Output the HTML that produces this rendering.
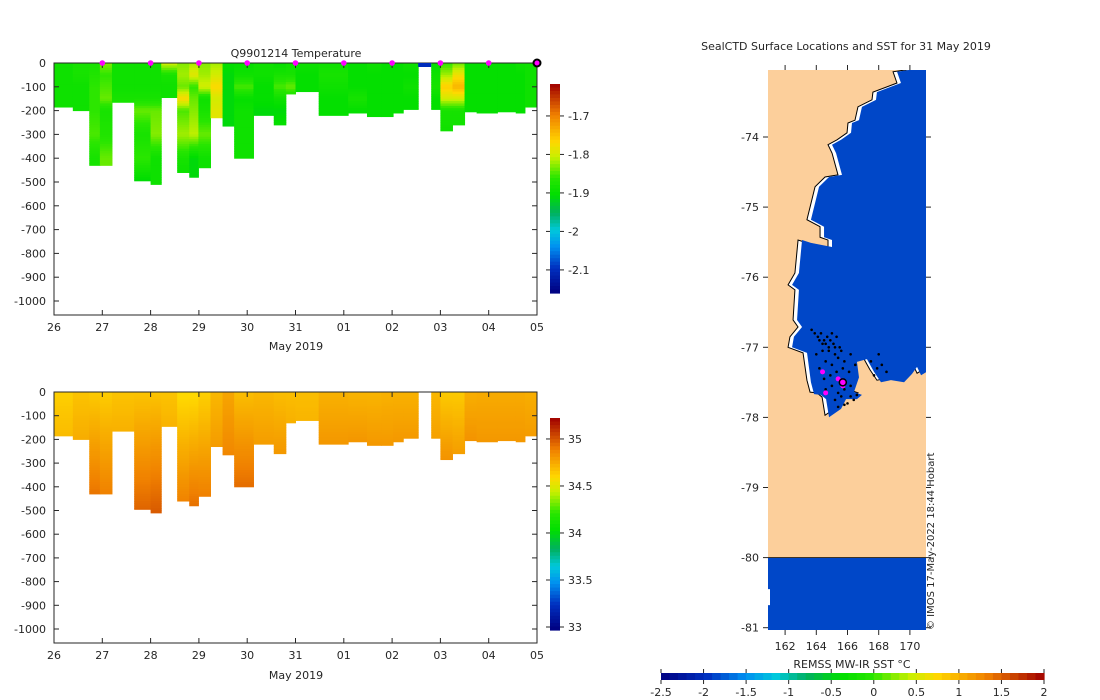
<!DOCTYPE html>
<html><head><meta charset="utf-8"><style>
html,body{margin:0;padding:0;background:#fff;}
svg{display:block;font-family:"DejaVu Sans","Liberation Sans",sans-serif;}
text{fill:#262626;font-size:11px;}
</style></head><body>
<svg id="fig" width="1100" height="700" viewBox="0 0 1100 700">
<defs><clipPath id="mapclip"><rect x="768" y="70" width="158" height="560"/></clipPath></defs>
<g id="temp"></g>
<g id="sal"></g>
<g id="map"></g>
<text x="296" y="57" text-anchor="middle">Q9901214  Temperature</text>
<text x="296" y="350" text-anchor="middle">May 2019</text>
<text x="296" y="679" text-anchor="middle">May 2019</text>
<text x="846" y="50" text-anchor="middle">SealCTD Surface Locations and SST for 31 May 2019</text>
<text x="852" y="668" text-anchor="middle">REMSS MW-IR SST °C</text>
<text transform="translate(934,630) rotate(-90)" style="font-size:10px">© IMOS 17-May-2022 18:44 Hobart</text>
</svg>
<script>
// ---- data ----
const dayLabels = ["26","27","28","29","30","31","01","02","03","04","05"];
const depthTicks = [0,-100,-200,-300,-400,-500,-600,-700,-800,-900,-1000];
const colStart = [0,0.39,0.73,0.95,1.2,1.66,2.0,2.22,2.55,2.8,2.99,3.24,3.49,3.73,4.13,4.55,4.8,5.0,5.48,6.09,6.48,6.78,7.02,7.23,7.81,8.0,8.25,8.5,8.75,9.18,9.56,9.75];
const colEnd   = [0.39,0.73,0.95,1.2,1.66,2.0,2.22,2.55,2.8,2.99,3.24,3.49,3.73,4.13,4.55,4.8,5.0,5.48,6.09,6.48,6.78,7.02,7.23,7.54,8.0,8.25,8.5,8.75,9.18,9.56,9.75,10.0];
const colDepth = [185,200,430,430,165,495,510,145,460,480,440,230,265,400,220,260,130,120,220,210,225,225,210,195,195,285,260,205,210,205,210,185];
const tempLevels = [0,50,100,150,200,300,400,500];
const tempVals = [
[-1.89,-1.89,-1.89,-1.89,-1.89,-1.89,-1.89,-1.89],
[-1.88,-1.88,-1.89,-1.89,-1.89,-1.89,-1.89,-1.89],
[-1.88,-1.87,-1.86,-1.86,-1.86,-1.85,-1.88,-1.88],
[-1.83,-1.86,-1.85,-1.84,-1.88,-1.87,-1.84,-1.84],
[-1.89,-1.89,-1.89,-1.88,-1.88,-1.88,-1.88,-1.88],
[-1.89,-1.89,-1.89,-1.88,-1.84,-1.88,-1.86,-1.91],
[-1.89,-1.89,-1.89,-1.88,-1.84,-1.83,-1.89,-1.89],
[-1.80,-1.88,-1.89,-1.89,-1.89,-1.89,-1.89,-1.89],
[-1.83,-1.82,-1.84,-1.77,-1.85,-1.82,-1.88,-1.90],
[-1.82,-1.79,-1.86,-1.84,-1.83,-1.81,-1.91,-1.91],
[-1.83,-1.82,-1.80,-1.89,-1.88,-1.84,-1.89,-1.89],
[-1.82,-1.80,-1.77,-1.80,-1.79,-1.79,-1.79,-1.79],
[-1.90,-1.91,-1.91,-1.91,-1.91,-1.91,-1.91,-1.91],
[-1.90,-1.89,-1.85,-1.90,-1.89,-1.89,-1.89,-1.89],
[-1.89,-1.89,-1.90,-1.90,-1.91,-1.91,-1.91,-1.91],
[-1.90,-1.88,-1.85,-1.89,-1.91,-1.89,-1.89,-1.89],
[-1.89,-1.88,-1.84,-1.89,-1.89,-1.89,-1.89,-1.89],
[-1.89,-1.90,-1.90,-1.90,-1.90,-1.90,-1.90,-1.90],
[-1.89,-1.88,-1.89,-1.90,-1.90,-1.90,-1.90,-1.90],
[-1.90,-1.90,-1.90,-1.88,-1.90,-1.90,-1.90,-1.90],
[-1.89,-1.90,-1.90,-1.90,-1.90,-1.90,-1.90,-1.90],
[-1.90,-1.90,-1.90,-1.90,-1.90,-1.90,-1.90,-1.90],
[-1.90,-1.90,-1.90,-1.90,-1.90,-1.90,-1.90,-1.90],
[-1.89,-1.90,-1.89,-1.90,-1.90,-1.90,-1.90,-1.90],
[-1.90,-1.89,-1.88,-1.90,-1.90,-1.90,-1.90,-1.90],
[-1.86,-1.82,-1.76,-1.80,-1.88,-1.89,-1.89,-1.89],
[-1.84,-1.78,-1.74,-1.80,-1.88,-1.89,-1.89,-1.89],
[-1.90,-1.90,-1.90,-1.90,-1.90,-1.90,-1.90,-1.90],
[-1.90,-1.90,-1.90,-1.90,-1.90,-1.90,-1.90,-1.90],
[-1.90,-1.90,-1.90,-1.90,-1.90,-1.90,-1.90,-1.90],
[-1.89,-1.90,-1.90,-1.90,-1.90,-1.90,-1.90,-1.90],
[-1.89,-1.89,-1.89,-1.89,-1.89,-1.89,-1.89,-1.89]];
const salTop = [34.62,34.66,34.64,34.63,34.66,34.66,34.66,34.66,34.58,34.58,34.62,34.70,34.76,34.68,34.70,34.68,34.68,34.68,34.72,34.71,34.71,34.72,34.72,34.72,34.70,34.64,34.64,34.73,34.74,34.74,34.74,34.73];
const sal500 = [34.80,34.85,34.96,34.92,34.85,34.96,34.98,34.85,34.90,34.94,34.92,34.90,34.95,35.00,34.90,34.92,34.85,34.80,34.92,34.95,34.92,34.90,34.92,34.92,34.90,34.96,34.92,34.95,34.90,34.90,34.90,34.90];
const markerDays = [1,2,3,4,5,6,7,8,9];
const lastDay = [10];
const sstTicks = [-2.5,-2,-1.5,-1,-0.5,0,0.5,1,1.5,2];
const tempCbTicks = [-1.7,-1.8,-1.9,-2,-2.1];
const salCbTicks = [35,34.5,34,33.5,33];
const lonTicks = [162,164,166,168,170];
const latTicks = [-74,-75,-76,-77,-78,-79,-80,-81];
const coastLon = [169.81,168.92,169.17,167.63,167.57,166.67,166.48,166.03,165.97,165.33,164.75,165.01,165.39,164.56,163.92,163.60,163.40,164.24,164.24,164.75,164.75,163.40,162.83,162.63,162.19,162.63,162.51,162.83,162.31,162.19,163.15,163.40,163.60,164.04,164.37,164.56,165.33,165.65,166.35,166.67,166.16,166.48,166.35,166.99,167.44,167.89,168.53,169.37,169.88,170.20,170.46,170.97,171.2];
const coastLat = [-73.04,-73.07,-73.23,-73.36,-73.47,-73.57,-73.76,-73.80,-73.94,-74.04,-74.11,-74.23,-74.54,-74.57,-74.71,-75.0,-75.18,-75.28,-75.43,-75.47,-75.57,-75.51,-75.47,-75.94,-76.11,-76.18,-76.61,-76.71,-76.85,-77.0,-77.08,-77.47,-77.64,-77.65,-77.71,-77.97,-77.85,-77.71,-77.71,-77.65,-77.61,-77.40,-77.18,-77.14,-77.32,-77.47,-77.44,-77.47,-77.35,-77.25,-77.37,-77.30,-77.30];
const trackLon = [163.7,163.9,164.1,164.3,164.5,164.7,164.9,165.1,165.3,165.5,164.0,164.4,164.8,165.2,165.6,164.2,164.6,165.0,165.4,165.8,166.2,164.5,164.9,165.3,165.7,166.1,166.5,164.6,165.0,165.4,165.8,166.2,165.2,165.6,166.0,166.4,165.4,165.8,166.2,166.6,167.5,167.9,168.2,168.5,167.7,168.0,164.2,164.6,165.0,164.8,165.2,164.4];
const trackLat = [-76.75,-76.8,-76.85,-76.8,-76.9,-76.85,-76.9,-76.95,-76.85,-77.0,-77.1,-77.05,-77.0,-77.1,-77.05,-77.3,-77.2,-77.25,-77.15,-77.2,-77.1,-77.45,-77.4,-77.35,-77.3,-77.35,-77.25,-77.6,-77.55,-77.65,-77.6,-77.55,-77.75,-77.7,-77.8,-77.75,-77.85,-77.82,-77.7,-77.68,-77.2,-77.3,-77.25,-77.35,-77.4,-77.1,-76.9,-76.95,-76.8,-77.05,-77.0,-76.95];
const magLon = [164.4,165.7,164.6,165.4];
const magLat = [-77.35,-77.55,-77.65,-77.45];
const curLon = [165.7];
const curLat = [-77.5];
const sstWater = -1.8;

// ---- helpers ----
const NS="http://www.w3.org/2000/svg";
function mk(tag,attrs,parent){const e=document.createElementNS(NS,tag);for(const k in attrs)e.setAttribute(k,attrs[k]);parent.appendChild(e);return e;}
const stops=[[0,[0,0,128]],[0.12,[0,48,192]],[0.22,[0,144,240]],[0.3,[0,200,220]],[0.38,[0,176,96]],[0.47,[0,222,0]],[0.55,[40,230,0]],[0.65,[200,240,0]],[0.72,[255,216,0]],[0.85,[240,128,0]],[1,[160,0,0]]];
function cmap(t){t=Math.max(0,Math.min(1,t));for(let i=1;i<stops.length;i++){if(t<=stops[i][0]){const a=stops[i-1],b=stops[i];const f=(t-a[0])/(b[0]-a[0]);const c=a[1].map((v,j)=>Math.round(v+(b[1][j]-v)*f));return `rgb(${c[0]},${c[1]},${c[2]})`;}}return 'rgb(160,0,0)';}
function interp(xs,ys,x){if(x<=xs[0])return ys[0];for(let i=1;i<xs.length;i++){if(x<=xs[i]){const f=(x-xs[i-1])/(xs[i]-xs[i-1]);return ys[i-1]+(ys[i]-ys[i-1])*f;}}return ys[ys.length-1];}

const X0=54,X1=537;
const xs=d=>X0+d*(X1-X0)/10;

function panel(g,top,bottom,zeroY,pxPerM,valFn,vmin,vmax,cb,cbTicks,name){
  const ys=d=>zeroY+d*pxPerM;
  for(let c=0;c<colStart.length;c++){
    const col=mk('g',{},g);
    
    
    for(let d=0;d<colDepth[c];d+=10){
      const d2=Math.min(d+10,colDepth[c]);
      const v=valFn(c,d+5);
      mk('rect',{x:xs(colStart[c]),y:ys(d),width:xs(colEnd[c])-xs(colStart[c])+0.5,height:ys(d2)-ys(d)+0.5,fill:cmap((v-vmin)/(vmax-vmin))},col);
    }
  }
  const box=mk('rect',{x:X0,y:zeroY,width:X1-X0,height:bottom-zeroY,fill:'none',stroke:'#262626','stroke-width':1},g);
  
  dayLabels.forEach((l,i)=>{const x=xs(i);
    mk('line',{x1:x,x2:x,y1:bottom,y2:bottom-5,stroke:'#262626'},g);
    mk('line',{x1:x,x2:x,y1:zeroY,y2:zeroY+5,stroke:'#262626'},g);
    const t=mk('text',{x:x,y:bottom+16,'text-anchor':'middle'},g);t.textContent=l;
    });
  depthTicks.forEach(v=>{const y=ys(-v);
    mk('line',{x1:X0,x2:X0+5,y1:y,y2:y,stroke:'#262626'},g);
    mk('line',{x1:X1,x2:X1-5,y1:y,y2:y,stroke:'#262626'},g);
    const t=mk('text',{x:X0-8,y:y+4,'text-anchor':'end'},g);t.textContent=v;
    });
  const cg=mk('g',{},g);
  const N=60;for(let i=0;i<N;i++){const y=cb.y0+(cb.y1-cb.y0)*i/N;mk('rect',{x:550,y:y,width:10,height:(cb.y1-cb.y0)/N+0.6,fill:cmap(1-(i+0.5)/N)},cg);}
  const cy=v=>cb.y1-(v-vmin)/(vmax-vmin)*(cb.y1-cb.y0);
  cbTicks.forEach(v=>{const y=cy(v);mk('line',{x1:560,x2:564,y1:y,y2:y,stroke:'#262626'},cg);mk('line',{x1:546,x2:550,y1:y,y2:y,stroke:'#262626'},cg);
    const t=mk('text',{x:568,y:y+4},cg);t.textContent=v;});
}
const tg=document.getElementById('temp');
panel(tg,63,315,63,0.238,(c,d)=>interp(tempLevels,tempVals[c],d),-2.16,-1.617,{y0:84,y1:293},tempCbTicks,'temperature');
const gs=mk('rect',{x:xs(7.54),y:63,width:xs(7.81)-xs(7.54),height:4,fill:cmap((-2.1+2.16)/0.543)},tg);

markerDays.forEach(d=>{const m=mk('circle',{cx:xs(d),cy:63,r:2.8,fill:'#ff00ff'},tg);
  });
lastDay.forEach(d=>{const m=mk('circle',{cx:xs(d),cy:63,r:3.5,fill:'#ff00ff',stroke:'#000','stroke-width':2},tg);
  });
const sg=document.getElementById('sal');
panel(sg,392,643,392,0.237,(c,d)=>salTop[c]+(sal500[c]-salTop[c])*d/500,32.968,35.223,{y0:418,y1:630},salCbTicks,'salinity');

// ---- map ----
const mgo=document.getElementById('map');
const mg=mk('g',{'clip-path':'url(#mapclip)'},mgo);
const lx=lon=>769.5+(lon-161)*15.6;
const ly=lat=>137+(-74-lat)*70.1;
const MX0=768,MX1=926,MY0=70,MY1=630;
const land=mk('rect',{x:MX0,y:MY0,width:MX1-MX0,height:MY1-MY0,fill:'#fccf9b'},mg);

let pts=coastLon.map((l,i)=>lx(l)+','+ly(coastLat[i]));
pts.push((MX1+5)+','+(MY0-2));
const wpoly=mk('polygon',{points:pts.join(' '),fill:'#fff',stroke:'#000','stroke-width':1},mg);

let pts2=coastLon.map((l,i)=>(lx(l)+4)+','+(ly(coastLat[i])+(i>30?2:0)));
pts2.push((MX1+5)+','+(MY0-2));
const sea=mk('polygon',{points:pts2.join(' '),fill:'#0047c8'},mg);

const s2=mk('rect',{x:MX0,y:ly(-80),width:MX1-MX0,height:MY1-ly(-80),fill:'#0047c8'},mg);

mk('line',{x1:MX0,x2:MX1,y1:ly(-80),y2:ly(-80),stroke:'#000','stroke-width':0.8},mg);
mk('rect',{x:MX0,y:ly(-80.45),width:2,height:16,fill:'#fff'},mg);
trackLon.forEach((l,i)=>{const p=mk('circle',{cx:lx(l),cy:ly(trackLat[i]),r:1.3,fill:'#000'},mg);
  });
magLon.forEach((l,i)=>{const p=mk('circle',{cx:lx(l),cy:ly(magLat[i]),r:2.5,fill:'#ff00ff'},mg);
  });
curLon.forEach((l,i)=>{const p=mk('circle',{cx:lx(l),cy:ly(curLat[i]),r:3.5,fill:'#ff00ff',stroke:'#000','stroke-width':1.5},mg);
  });
lonTicks.forEach(l=>{const x=lx(l);mk('line',{x1:x,x2:x,y1:MY1,y2:MY1+5,stroke:'#262626'},mgo);mk('line',{x1:x,x2:x,y1:MY0,y2:MY0-5,stroke:'#262626'},mgo);
  const t=mk('text',{x:x,y:MY1+20,'text-anchor':'middle'},mgo);t.textContent=l;
  });
latTicks.forEach(l=>{const y=ly(l);mk('line',{x1:MX0,x2:MX0-5,y1:y,y2:y,stroke:'#262626'},mgo);mk('line',{x1:MX1,x2:MX1+5,y1:y,y2:y,stroke:'#262626'},mgo);
  const t=mk('text',{x:MX0-9,y:y+4,'text-anchor':'end'},mgo);t.textContent=l;
  });
const sc=mk('g',{},mgo);
const CB0=661,CB1=1044;const N=45;
for(let i=0;i<N;i++){mk('rect',{x:CB0+(CB1-CB0)*i/N,y:673,width:(CB1-CB0)/N+0.6,height:7,fill:cmap((i+0.5)/N)},sc);}
sstTicks.forEach(v=>{const x=CB0+(v+2.5)/4.5*(CB1-CB0);mk('line',{x1:x,x2:x,y1:669,y2:673,stroke:'#262626'},sc);mk('line',{x1:x,x2:x,y1:680,y2:684,stroke:'#262626'},sc);
  const t=mk('text',{x:x,y:696,'text-anchor':'middle'},sc);t.textContent=v;});
</script>
</body></html>
